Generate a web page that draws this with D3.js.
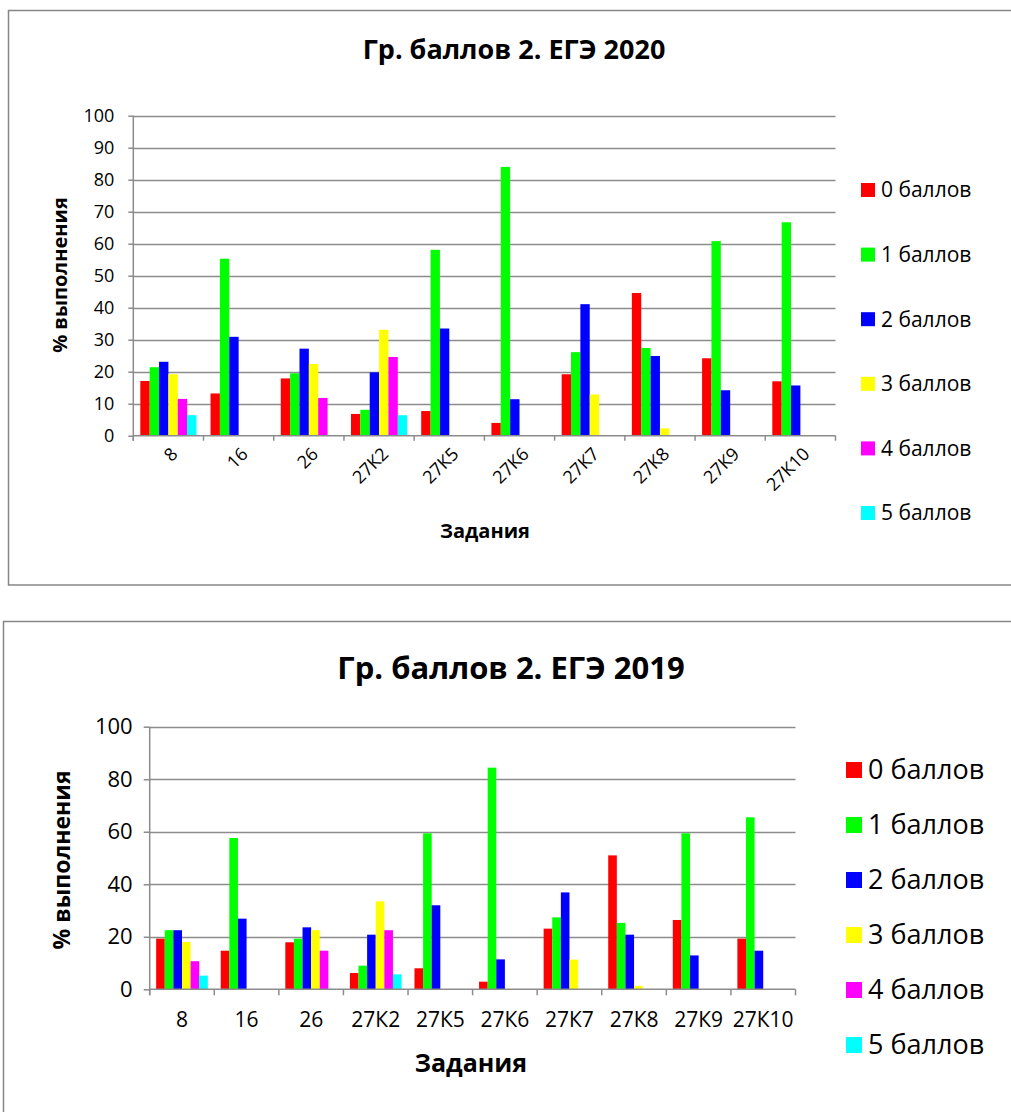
<!DOCTYPE html>
<html><head><meta charset="utf-8">
<script src="https://cdn.jsdelivr.net/npm/d3@7"></script>
<style>
html,body{margin:0;padding:0;background:#fff;}
svg{display:block;font-family:"Open Sans","Noto Sans",sans-serif;}
</style></head>
<body>
<svg id="chart" width="1011" height="1112"></svg>
<script>
// ---- data ----
const categories = ["8","16","26","27К2","27К5","27К6","27К7","27К8","27К9","27К10"];
const seriesNames = ["0 баллов","1 баллов","2 баллов","3 баллов","4 баллов","5 баллов"];
const seriesColors = ["#FF0000","#00FF00","#0000FF","#FFFF00","#FF00FF","#00FFFF"];
const yTicks2020 = [0,10,20,30,40,50,60,70,80,90,100];
const yTicks2019 = [0,20,40,60,80,100];

const v2020_0 = [17.1,13.2,17.9,6.8,7.7,4.0,19.2,44.6,24.2,17.0];
const v2020_1 = [21.4,55.3,19.5,8.1,58.1,84.0,26.1,27.4,60.8,66.7];
const v2020_2 = [23.1,30.9,27.2,19.8,33.5,11.4,41.1,24.9,14.2,15.7];
const v2020_3 = [19.2,null,22.4,33.1,null,null,12.9,2.3,null,null];
const v2020_4 = [11.5,null,11.8,24.6,null,null,null,null,null,null];
const v2020_5 = [6.4,null,null,6.4,null,null,null,null,null,null];

const v2019_0 = [19.3,14.7,17.9,6.2,8.0,2.9,23.1,51.0,26.4,19.3];
const v2019_1 = [22.5,57.6,19.3,9.0,59.4,84.4,27.4,25.3,59.4,65.5];
const v2019_2 = [22.5,26.9,23.6,20.8,32.0,11.4,36.9,20.8,12.9,14.7];
const v2019_3 = [18.0,null,22.5,33.5,null,null,11.3,1.3,null,null];
const v2019_4 = [10.7,null,14.7,22.5,null,null,null,null,null,null];
const v2019_5 = [5.2,null,null,5.7,null,null,null,null,null,null];

const title2020 = "Гр. баллов 2. ЕГЭ 2020";
const title2019 = "Гр. баллов 2. ЕГЭ 2019";
const yTitle = "% выполнения";
const xTitle = "Задания";

const svg = d3.select("#chart");

function drawChart(cfg, series, title, yTicks) {
  const g = svg.append("g");
  // frame
  g.append("rect").attr("x", cfg.frame[0]).attr("y", cfg.frame[1])
    .attr("width", cfg.frame[2]).attr("height", cfg.frame[3])
    .attr("fill", "#fff").attr("stroke", "#868686").attr("stroke-width", 1.5);

  const x = d3.scaleBand().domain(categories).range([cfg.left, cfg.right]).padding(0);
  const xs = d3.scaleBand().domain(d3.range(series.length)).range([0, x.bandwidth()])
    .paddingInner(0).paddingOuter(0.75);
  const y = d3.scaleLinear().domain([0, 100]).range([cfg.bottom, cfg.top]);

  // gridlines
  g.append("g").selectAll("line").data(yTicks.filter(t => t > 0)).join("line")
    .attr("x1", cfg.left).attr("x2", cfg.right)
    .attr("y1", d => Math.round(y(d)) + 0.5).attr("y2", d => Math.round(y(d)) + 0.5)
    .attr("stroke", "#8c8c8c").attr("stroke-width", 1.5);

  // bars
  series.forEach((vals, si) => {
    g.append("g").selectAll("rect").data(vals.map((v, i) => ({v, c: categories[i]})).filter(d => d.v != null))
      .join("rect")
      .attr("x", d => x(d.c) + xs(si))
      .attr("width", xs.bandwidth())
      .attr("y", d => y(d.v))
      .attr("height", d => y(0) - y(d.v))
      .attr("fill", seriesColors[si]);
  });

  // y axis
  const yAxis = d3.axisLeft(y).tickValues(yTicks).tickSize(cfg.tick).tickPadding(cfg.yPad).tickFormat(d3.format("d"));
  const ya = g.append("g").attr("transform", `translate(${cfg.left},0)`).call(yAxis);
  ya.select(".domain").attr("stroke", "#8c8c8c").attr("stroke-width", 1.5)
    .attr("d", `M0,${cfg.top}V${cfg.bottom + cfg.tick}`);
  ya.selectAll(".tick line").attr("stroke", "#8c8c8c").attr("stroke-width", 1.5);
  ya.selectAll(".tick text").attr("font-size", cfg.yFont).attr("fill", "#000")
    .attr("font-family", "'Open Sans',sans-serif");

  // x axis
  const xAxis = d3.axisBottom(x).tickSize(0).tickFormat(d => d);
  const xa = g.append("g").attr("transform", `translate(0,${cfg.bottom})`).call(xAxis);
  xa.select(".domain").attr("stroke", "#8c8c8c").attr("stroke-width", 1.5)
    .attr("d", `M${cfg.left},0H${cfg.right}`);
  // boundary tick marks
  xa.append("g").selectAll("line").data(d3.range(categories.length + 1)).join("line")
    .attr("x1", i => cfg.left + i * x.step()).attr("x2", i => cfg.left + i * x.step())
    .attr("y1", 0).attr("y2", cfg.tick)
    .attr("stroke", "#8c8c8c").attr("stroke-width", 1.5);
  xa.selectAll(".tick text").attr("font-size", cfg.xFont).attr("fill", "#000")
    .attr("font-family", "'Open Sans',sans-serif");
  if (cfg.rotate) {
    xa.selectAll(".tick text")
      .attr("text-anchor", "end").attr("dy", "0.35em")
      .attr("transform", `translate(${cfg.rotDx},${cfg.rotDy}) rotate(-45)`)
      .attr("y", 0).attr("x", 0);
  } else {
    xa.selectAll(".tick text").attr("y", cfg.xLabelY).attr("dy", "0.35em");
  }

  // titles
  g.append("text").attr("x", cfg.titleX).attr("y", cfg.titleY).attr("text-anchor", "middle")
    .attr("font-size", cfg.titleFont).attr("font-weight", "bold").text(title);
  g.append("text").attr("transform", `translate(${cfg.yTitleX},${cfg.yTitleY}) rotate(-90)`)
    .attr("text-anchor", "middle").attr("dy", "0.35em")
    .attr("font-size", cfg.axisTitleFont).attr("font-weight", "bold").text(yTitle);
  g.append("text").attr("x", cfg.xTitleX).attr("y", cfg.xTitleY).attr("text-anchor", "middle")
    .attr("dy", "0.35em")
    .attr("font-size", cfg.xTitleFont).attr("font-weight", "bold").text(xTitle);

  // legend
  const lg = g.append("g").selectAll("g").data(seriesNames).join("g")
    .attr("transform", (d, i) => `translate(${cfg.legX},${cfg.legY + i * cfg.legStep})`);
  lg.append("rect").attr("x", 0).attr("y", -cfg.sw / 2).attr("width", cfg.sw).attr("height", cfg.sw)
    .attr("fill", (d, i) => seriesColors[i]);
  lg.append("text").attr("x", cfg.sw + cfg.legGap).attr("dy", "0.35em")
    .attr("font-size", cfg.legFont).text(d => d);
}

drawChart({
  frame: [8.5, 10.5, 1020, 574.5],
  left: 133.3, right: 835.5, top: 115.7, bottom: 435.7,
  tick: 5, yPad: 14, yFont: 18, xFont: 18,
  rotate: true, rotDx: 6, rotDy: 15,
  titleX: 514, titleY: 59, titleFont: 27,
  yTitleX: 60, yTitleY: 275, axisTitleFont: 20, xTitleX: 485, xTitleY: 531, xTitleFont: 20,
  legX: 861, legY: 190, legStep: 64.6, sw: 14, legGap: 6, legFont: 21
}, [v2020_0, v2020_1, v2020_2, v2020_3, v2020_4, v2020_5], title2020, yTicks2020);

drawChart({
  frame: [3.5, 621.5, 1020, 520],
  left: 149.7, right: 795.5, top: 726.7, bottom: 989.3,
  tick: 6, yPad: 11, yFont: 22, xFont: 21,
  rotate: false, xLabelY: 30,
  titleX: 511, titleY: 679, titleFont: 31,
  yTitleX: 62, yTitleY: 860, axisTitleFont: 23, xTitleX: 471, xTitleY: 1063, xTitleFont: 25,
  legX: 846, legY: 770, legStep: 55, sw: 16, legGap: 6, legFont: 27
}, [v2019_0, v2019_1, v2019_2, v2019_3, v2019_4, v2019_5], title2019, yTicks2019);
</script>
</body></html>
